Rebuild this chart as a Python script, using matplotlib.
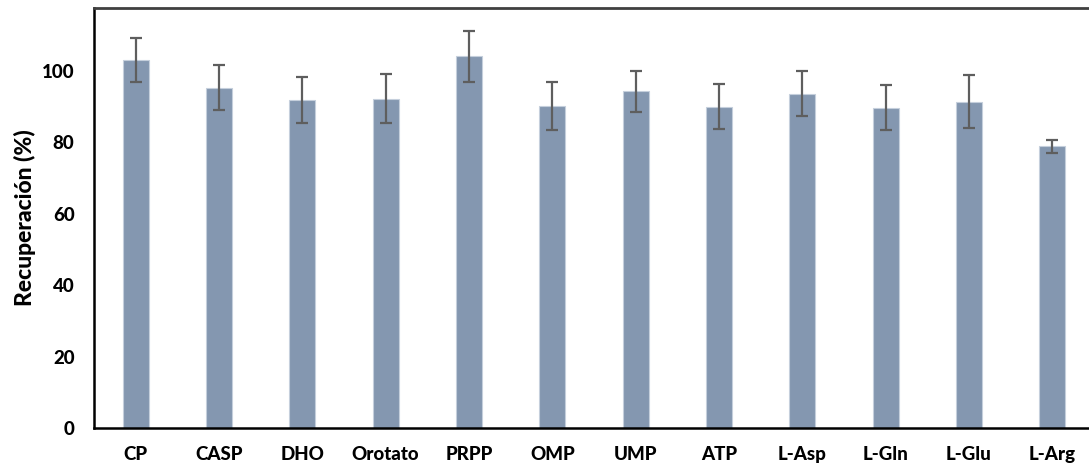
import matplotlib
matplotlib.use("Agg")
import matplotlib.pyplot as plt
import numpy as np

plt.rcParams['font.family'] = ['Lato', 'DejaVu Sans']

categories = ["CP", "CASP", "DHO", "Orotato", "PRPP", "OMP",
              "UMP", "ATP", "L-Asp", "L-Gln", "L-Glu", "L-Arg"]
recovery = [103.1, 95.3, 91.8, 92.2, 104.1, 90.1,
            94.3, 89.9, 93.6, 89.7, 91.4, 78.9]
error = [6.2, 6.3, 6.5, 6.8, 7.2, 6.7,
         5.8, 6.3, 6.3, 6.2, 7.3, 1.8]
yticks = [0, 20, 40, 60, 80, 100]

fig = plt.figure(figsize=(10.89, 4.68), dpi=100)
ax = fig.add_axes([94 / 1089, 1 - 428 / 468, 1000 / 1089, 420 / 468])

x = np.arange(len(categories))
ax.bar(x, recovery, width=0.31, color="#8497B0", edgecolor="#C5CFDC",
       linewidth=0.8, zorder=2)
ax.errorbar(x, recovery, yerr=error, fmt="none", ecolor="#5E5E5E",
            elinewidth=1.6, capsize=4.2, capthick=1.6, zorder=3)

ax.set_xlim(-0.5, len(categories) - 0.5)
ax.set_ylim(0, 117.6)
ax.set_yticks(yticks)
ax.set_xticks(x)
ax.set_xticklabels(categories, fontsize=13.5, fontweight="black")
ax.set_yticklabels([str(v) for v in yticks], fontsize=13.5, fontweight="black")
ax.tick_params(axis="both", length=0)
ax.tick_params(axis="y", pad=14)
ax.tick_params(axis="x", pad=13)

ax.set_ylabel("Recuperación (%)", fontsize=16.5, fontweight="black", labelpad=4)

for side in ["left", "bottom"]:
    ax.spines[side].set_color("black")
    ax.spines[side].set_linewidth(1.8)
ax.spines["top"].set_color("#404040")
ax.spines["top"].set_linewidth(2.0)
ax.spines["right"].set_visible(False)

fig.savefig("out.png", dpi=100)
